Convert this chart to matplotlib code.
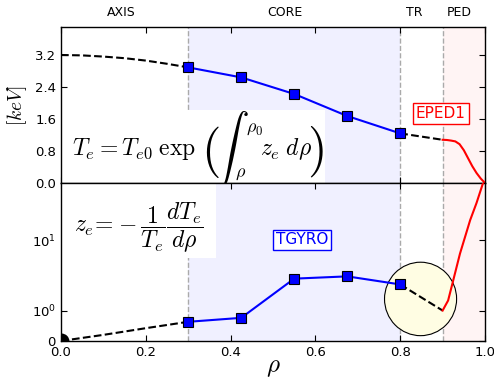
import numpy as np
import matplotlib
matplotlib.use("Agg")
import matplotlib.pyplot as plt
from matplotlib.patches import Rectangle, Ellipse
from matplotlib.ticker import FixedLocator, NullLocator

plt.rcParams['mathtext.fontset'] = 'cm'
plt.rcParams['font.family'] = ['DejaVu Sans']
plt.rcParams['xtick.direction'] = 'in'
plt.rcParams['ytick.direction'] = 'in'

# TGYRO core points
rho_core = [0.3, 0.425, 0.55, 0.675, 0.8]
te_core = [2.89, 2.64, 2.225, 1.675, 1.24]
ze_core = [0.63, 0.76, 2.84, 3.06, 2.35]

# axis extrapolation (dashed)
rho_axis = [0.0, 0.05, 0.1, 0.15, 0.2, 0.25, 0.3]
te_axis = [3.20, 3.19, 3.16, 3.12, 3.06, 2.98, 2.89]
rho_axis_z = [0.0, 0.1, 0.2, 0.3]
ze_axis = [0.0, 0.2, 0.42, 0.63]

# transport region bridge (dashed)
rho_tr = [0.8, 0.9]
te_tr = [1.24, 1.08]
ze_tr = [2.35, 1.0]

# EPED1 pedestal
rho_ped = [0.9, 0.91, 0.92, 0.93, 0.94, 0.95, 0.96, 0.97, 0.98, 0.99, 1.0]
te_ped = [1.08, 1.075, 1.06, 1.04, 0.97, 0.82, 0.62, 0.42, 0.25, 0.11, 0.0]
rho_ped_z = [0.9, 0.913, 0.925, 0.941, 0.965, 0.98, 0.995, 1.0]
ze_ped = [1.0, 1.39, 2.68, 6.45, 19.3, 33.8, 64.0, 80.0]

regions = ['AXIS', 'CORE', 'TR', 'PED']
region_x = [0.143, 0.528, 0.833, 0.94]

fig = plt.figure(figsize=(4.94, 3.78), dpi=100)
ax1 = fig.add_axes([0.1235, 0.5159, 0.8583, 0.4127])
ax2 = fig.add_axes([0.1235, 0.0980, 0.8583, 0.4179])

for ax in (ax1, ax2):
    ax.axvspan(0.3, 0.8, color='#f0f0ff', lw=0, zorder=0)
    ax.axvspan(0.9, 1.0, color='#fff4f4', lw=0, zorder=0)
    for xv in (0.3, 0.8, 0.9):
        ax.axvline(xv, color='#aaaaaa', ls='--', lw=1, zorder=1)
    ax.set_xlim(0, 1)
    ax.tick_params(top=True, right=True, length=4, labelsize=9.5)
    for s in ax.spines.values():
        s.set_linewidth(1.0)

# top: temperature profile
ax1.plot(rho_axis, te_axis, 'k--', lw=1.5, zorder=3)
ax1.plot(rho_tr, te_tr, 'k--', lw=1.5, zorder=3)
ax1.plot(rho_core, te_core, '-s', color='b', lw=1.5, ms=7, mec='k', mew=0.8, zorder=4)
ax1.plot(rho_ped, te_ped, 'r-', lw=1.5, zorder=4)
ax1.set_ylim(0, 3.9)
ax1.set_yticks([0.0, 0.8, 1.6, 2.4, 3.2])
ax1.set_yticklabels(['0.0', '0.8', '1.6', '2.4', '3.2'])
ax1.set_xticks([0.0, 0.2, 0.4, 0.6, 0.8, 1.0])
ax1.set_xticklabels([])
ax1.set_ylabel('$[keV]$', fontsize=14, labelpad=4)
ax1.add_patch(Rectangle((0, 0), 0.623, 0.468, transform=ax1.transAxes,
                        facecolor='white', edgecolor='none', zorder=2))

# formula built from pieces so the big brackets and integral render cleanly
def put(ax, x, y, s, size, ha='center', va='center'):
    ax.text(x, y, s, transform=ax.transAxes, ha=ha, va=va, fontsize=size, zorder=3)

put(ax1, 0.026, 0.1795, r'$T_e = T_{e0}\;\exp$', 17, ha='left', va='baseline')
put(ax1, 0.353, 0.199, r'$($', 36)
put(ax1, 0.4026, 0.215, r'$\int$', 25)
put(ax1, 0.457, 0.353, r'$\rho_0$', 13)
put(ax1, 0.4245, 0.064, r'$\rho$', 13)
put(ax1, 0.469, 0.1795, r'$z_e\;d\rho$', 17, ha='left', va='baseline')
put(ax1, 0.599, 0.199, r'$)$', 36)

ax1.text(0.896, 1.74, 'EPED1', color='r', fontsize=11, ha='center', va='center',
         bbox=dict(facecolor='white', edgecolor='r', pad=2, lw=1), zorder=5)
for name, xr in zip(regions, region_x):
    ax1.text(xr, 1.09, name, transform=ax1.get_xaxis_transform(),
             ha='center', va='center', fontsize=9)

# bottom: normalized gradient
ax2.set_yscale('symlog', linthresh=1, linscale=0.389)
ax2.add_patch(Ellipse((0.848, 0.266), 0.170, 0.465, transform=ax2.transAxes,
                      facecolor='#fffde3', edgecolor='k', lw=0.8, zorder=2))
ax2.plot(rho_axis_z, ze_axis, 'k--', lw=1.5, zorder=3)
ax2.plot(rho_tr, ze_tr, 'k--', lw=1.5, zorder=3)
ax2.plot(rho_core, ze_core, '-s', color='b', lw=1.5, ms=7, mec='k', mew=0.8, zorder=4)
ax2.plot(rho_ped_z, ze_ped, 'r-', lw=1.5, zorder=4)
ax2.scatter([0.0], [0.0], s=110, c='k', clip_on=True, zorder=5)
ax2.set_ylim(0, 65)
ax2.yaxis.set_major_locator(FixedLocator([0, 1, 10]))
ax2.yaxis.set_minor_locator(NullLocator())
ax2.set_yticklabels([r'$\mathdefault{0}$', r'$\mathdefault{10^{0}}$',
                     r'$\mathdefault{10^{1}}$'])
ax2.set_xticks([0.0, 0.2, 0.4, 0.6, 0.8, 1.0])
ax2.set_xticklabels(['0.0', '0.2', '0.4', '0.6', '0.8', '1.0'])
ax2.set_xlabel(r'$\rho$', fontsize=18, labelpad=-3)
ax2.add_patch(Rectangle((0, 0.525), 0.366, 0.475, transform=ax2.transAxes,
                        facecolor='white', edgecolor='none', zorder=2))
put(ax2, 0.183, 0.718, r'$z_e\!=\!-\dfrac{1}{T_e}\dfrac{dT_e}{d\rho}$', 17)
ax2.text(0.568, 0.64, 'TGYRO', color='b', fontsize=11, ha='center', va='center',
         transform=ax2.transAxes,
         bbox=dict(facecolor='white', edgecolor='b', pad=2, lw=1), zorder=5)

fig.savefig('out.png', dpi=100)
